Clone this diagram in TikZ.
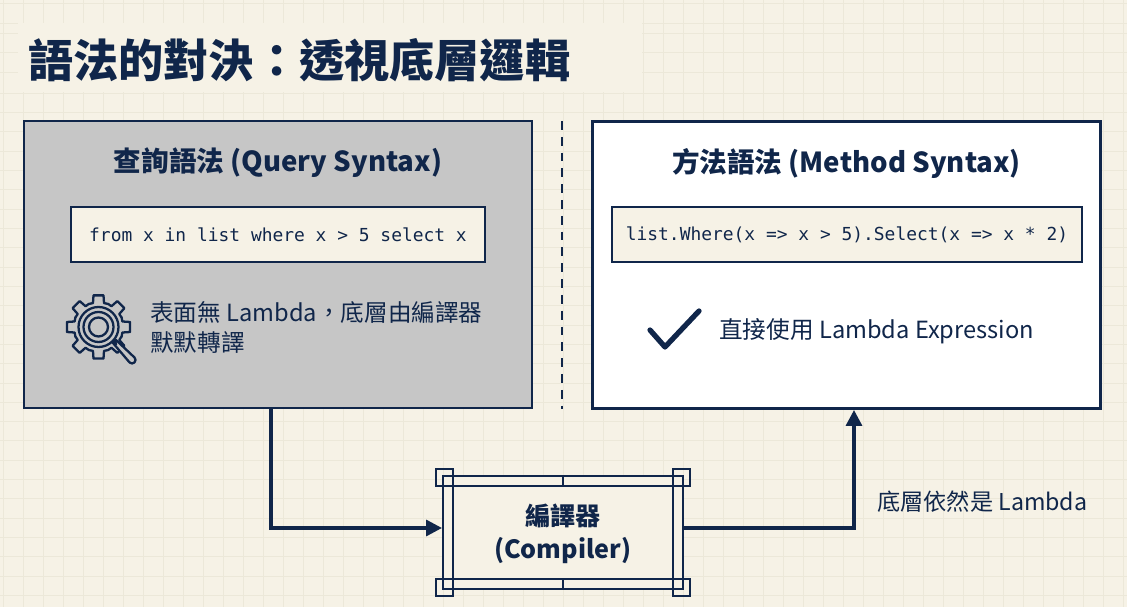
\documentclass[tikz,border=0pt]{standalone}
\usepackage{fontspec}
\setmainfont{Noto Sans CJK TC}
\setmonofont{DejaVu Sans Mono}
\usetikzlibrary{arrows.meta}
\definecolor{navy}{HTML}{10264A}
\definecolor{paper}{HTML}{F6F2E6}
\definecolor{gridline}{HTML}{ECE8D9}
\definecolor{panelgray}{HTML}{C6C6C6}
\newcommand{\widecolon}{\symbol{"FF1A}}
\newcommand{\widecomma}{\symbol{"FF0C}}
\begin{document}
\begin{tikzpicture}[x=0.02cm,y=-0.02cm,
  panel/.style={draw=navy,inner sep=0pt,outer sep=0pt},
  codebox/.style={draw=navy,line width=0.7pt,fill=paper,inner sep=0pt,minimum height=1.1cm,font=\ttfamily\fontsize{10.2}{12}\selectfont,text=navy},
  headline/.style={text=navy,font=\bfseries\fontsize{15.7}{20}\selectfont},
  bodytext/.style={text=navy,anchor=west,inner sep=0pt,align=left,font=\fontsize{13.45}{17.6}\selectfont},
  flow/.style={draw=navy,line width=1.9pt,-{Triangle[length=9pt,width=9pt]}},
  frameline/.style={draw=navy,line width=1.1pt},
  iconline/.style={draw=navy,line width=1.3pt,line cap=round,line join=round}]
\useasboundingbox (0,0) rectangle (1127,607);
\fill[paper] (0,0) rectangle (1127,607);
\foreach \gx in {3,23,...,1123} \draw[gridline,line width=0.5pt] (\gx,0)--(\gx,607);
\foreach \gy in {3,23,33,52,72,93} \draw[gridline,line width=0.5pt] (0,\gy)--(1127,\gy);
\foreach \gk in {1,...,26} \draw[gridline,line width=0.5pt] (0,{93+19.33*\gk})--(1127,{93+19.33*\gk});
\fill[paper] (18,23.5) rectangle (642,92.5);
\node[anchor=west,inner sep=0pt,text=navy,font=\bfseries\fontsize{25.7}{30}\selectfont] (title) at (28,60) {語法的對決\widecolon 透視底層邏輯};
\node[panel,fill=panelgray,line width=0.9pt,minimum width=10.16cm,minimum height=5.74cm] (queryBox) at (278,264.5) {};
\node[panel,fill=white,line width=1.7pt,minimum width=10.18cm,minimum height=5.76cm] (methodBox) at (846.5,265) {};
\draw[navy,line width=1pt,dash pattern=on 5pt off 4pt] (562,121)--(562,409);
\node[headline] (queryTitle) at (278,163) {查詢語法 (Query Syntax)};
\node[headline] (methodTitle) at (846.5,163) {方法語法 (Method Syntax)};
\node[codebox,minimum width=8.28cm] (queryCode) at (278,234.5) {from x in list where x > 5 select x};
\node[codebox,minimum width=9.4cm] (methodCode) at (847,234.5) {list.Where(x => x > 5).Select(x => x * 2)};
\node[bodytext] (queryNote) at (150,327.5) {表面無 Lambda\widecomma 底層由編譯器\\默默轉譯};
\node[bodytext] (methodNote) at (719,331) {直接使用 Lambda Expression};
\node[bodytext,font=\fontsize{13.2}{16}\selectfont] (flowNote) at (877,501.5) {底層依然是 Lambda};
% gear icon
\foreach \a in {0,45,...,315}{
  \draw[iconline] ({98.5+25*cos(\a-22.5)},{327+25*sin(\a-22.5)})
    --({98.5+24.5*cos(\a-13)},{327+24.5*sin(\a-13)})
    --({98.5+32*cos(\a-9)},{327+32*sin(\a-9)})
    --({98.5+32*cos(\a+9)},{327+32*sin(\a+9)})
    --({98.5+24.5*cos(\a+13)},{327+24.5*sin(\a+13)})
    --({98.5+25*cos(\a+22.5)},{327+25*sin(\a+22.5)});
}
\draw[iconline,fill=panelgray] (98.5,327) circle (20);
\draw[iconline] (98.5,327) circle (15);
\draw[iconline] (98.5,327) circle (9.5);
\draw[iconline,fill=panelgray] (113,343)--(116,340)--(134.5,357.5) arc (-45:135:3.5)--cycle;
\draw[iconline,line width=2pt] (113,341)--(116,344);
\draw[navy,line width=3pt,line cap=round,line join=round] (650,330)--(665,347)--(699,311);
% compiler
\node[draw=navy,line width=1.1pt,fill=paper,inner sep=0pt,outer sep=0pt,minimum width=4.8cm,minimum height=2.26cm] (compiler) at (562.7,532.5) {};
\node[text=navy,align=center,inner sep=0pt,font=\bfseries\fontsize{14.3}{18.6}\selectfont] (compilerLabel) at (562.7,533.5) {編譯器\\(Compiler)};
\draw[frameline] (435.7,486)--(689.7,486) (435.7,579)--(689.7,579);
\draw[frameline] (452.7,469)--(452.7,596) (672.7,469)--(672.7,596);
\draw[frameline] (562.7,476)--(562.7,486) (562.7,579)--(562.7,589);
\foreach \cx/\cy in {435.7/469,672.7/469,435.7/579.3,672.7/579.3}
  \draw[frameline] (\cx,\cy) rectangle ++(17,17);
\coordinate (queryOut) at (271,409);
\coordinate (compilerIn) at (442,528);
\coordinate (compilerOut) at (683,528);
\coordinate (methodIn) at (854,410);
\draw[flow] (queryOut) |- (compilerIn);
\draw[flow] (compilerOut) -| (methodIn);
\end{tikzpicture}
\end{document}
